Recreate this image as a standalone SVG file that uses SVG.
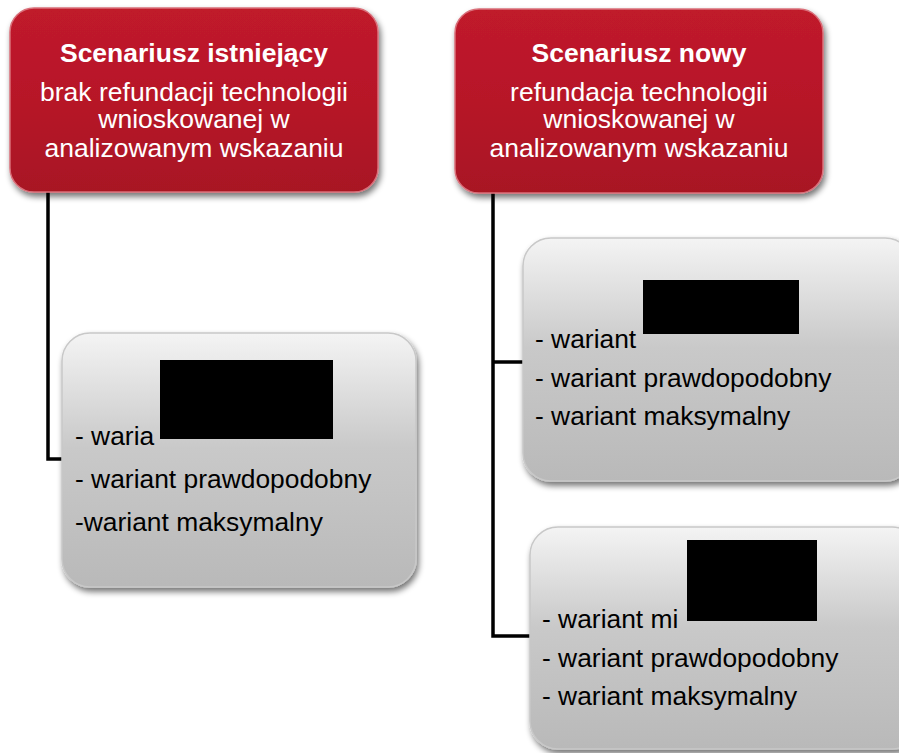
<svg xmlns="http://www.w3.org/2000/svg" width="899" height="753" viewBox="0 0 899 753">
<defs>
<linearGradient id="red" x1="0" y1="0" x2="0" y2="1">
<stop offset="0" stop-color="#c01a2c"/>
<stop offset="0.5" stop-color="#b71728"/>
<stop offset="1" stop-color="#a81424"/>
</linearGradient>
<linearGradient id="gray" x1="0" y1="0" x2="0" y2="1">
<stop offset="0" stop-color="#f4f4f4"/>
<stop offset="0.45" stop-color="#c9c9c9"/>
<stop offset="1" stop-color="#b9b9b9"/>
</linearGradient>
<filter id="sh" x="-10%" y="-10%" width="125%" height="130%">
<feGaussianBlur in="SourceAlpha" stdDeviation="3"/>
<feOffset dx="2" dy="4" result="b"/>
<feComponentTransfer><feFuncA type="linear" slope="0.55"/></feComponentTransfer>
<feMerge><feMergeNode/><feMergeNode in="SourceGraphic"/></feMerge>
</filter>
</defs>
<style>
.redbox{fill:url(#red);stroke:#d9707a;stroke-width:1.5;filter:url(#sh)}
.graybox{fill:url(#gray);stroke:#c8c8c8;stroke-width:1.5;filter:url(#sh)}
.t{font-family:"Liberation Sans",Arial,sans-serif;fill:#fff;text-anchor:middle;font-size:26.5px}
.tb{font-weight:bold}
.g{font-family:"Liberation Sans",Arial,sans-serif;fill:#000;font-size:26.4px}
.conn{fill:none;stroke:#000;stroke-width:3.5}
.red{fill:#000}
</style>
<g id="connectors">
<path class="conn" d="M48,192 V459 H66"/>
<path class="conn" d="M493,193 V636 H531"/>
<path class="conn" d="M493,362 H524"/>
</g>
<g id="node-existing">
<rect class="redbox" x="10" y="8" width="368" height="184" rx="24"/>
<text class="t tb" x="194" y="62">Scenariusz istniejący</text>
<text class="t" x="194" y="101">brak refundacji technologii</text>
<text class="t" x="194" y="128">wnioskowanej w</text>
<text class="t" x="194" y="157">analizowanym wskazaniu</text>
</g>
<g id="node-new">
<rect class="redbox" x="455" y="9" width="368" height="184" rx="24"/>
<text class="t tb" x="639" y="62">Scenariusz nowy</text>
<text class="t" x="639" y="101">refundacja technologii</text>
<text class="t" x="639" y="128">wnioskowanej w</text>
<text class="t" x="639" y="157">analizowanym wskazaniu</text>
</g>
<g id="node-existing-variants">
<rect class="graybox" x="62" y="333" width="354" height="254" rx="28"/>
<text class="g" x="75" y="445">- waria</text>
<text class="g" x="75" y="488">- wariant prawdopodobny</text>
<text class="g" x="75" y="531">-wariant maksymalny</text>
<rect class="red" x="160" y="360" width="173" height="79"/>
</g>
<g id="node-new-variants-1">
<rect class="graybox" x="523" y="238" width="390" height="243" rx="28"/>
<text class="g" x="535" y="348">- wariant</text>
<text class="g" x="535" y="387">- wariant prawdopodobny</text>
<text class="g" x="535" y="425">- wariant maksymalny</text>
<rect class="red" x="643" y="280" width="156" height="54"/>
</g>
<g id="node-new-variants-2">
<rect class="graybox" x="530" y="527" width="390" height="222" rx="28"/>
<text class="g" x="542" y="628">- wariant mi</text>
<text class="g" x="542" y="667">- wariant prawdopodobny</text>
<text class="g" x="542" y="705">- wariant maksymalny</text>
<rect class="red" x="687" y="540" width="130" height="81"/>
</g>
</svg>
